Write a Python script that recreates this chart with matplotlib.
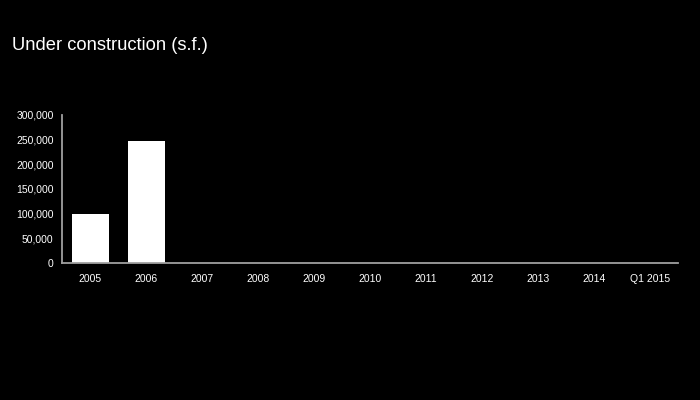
import matplotlib
matplotlib.use("Agg")
import matplotlib.pyplot as plt
from matplotlib.ticker import FuncFormatter

years = ["2005", "2006", "2007", "2008", "2009", "2010", "2011", "2012", "2013", "2014", "Q1 2015"]
sqft = [100000, 247000, 0, 0, 0, 0, 0, 0, 0, 0, 0]

plt.rcParams['font.family'] = ['Liberation Sans', 'DejaVu Sans']

fig = plt.figure(figsize=(7, 4), dpi=100, facecolor="black")
ax = fig.add_axes([0.0886, 0.3425, 0.88, 0.37])
ax.set_facecolor("black")

x = list(range(len(years)))
ax.bar(x, sqft, width=0.66, color="white")

ax.set_xlim(-0.5, len(years) - 0.5)
ax.set_ylim(0, 300000)
ax.set_yticks(range(0, 300001, 50000))
ax.yaxis.set_major_formatter(FuncFormatter(lambda v, p: f"{int(v):,}"))
ax.set_xticks(x)
ax.set_xticklabels(years)

for s in ["top", "right"]:
    ax.spines[s].set_visible(False)
for s in ["left", "bottom"]:
    ax.spines[s].set_color("#a0a0a0")
    ax.spines[s].set_linewidth(1.3)

ax.tick_params(axis="both", length=0, colors="white", labelsize=7.5)
ax.tick_params(axis="x", pad=8)
ax.tick_params(axis="y", pad=6)

fig.text(0.017, 0.885, "Under construction (s.f.)", color="white", fontsize=13.2, va="center")

fig.savefig("out.png", dpi=100, facecolor="black")
